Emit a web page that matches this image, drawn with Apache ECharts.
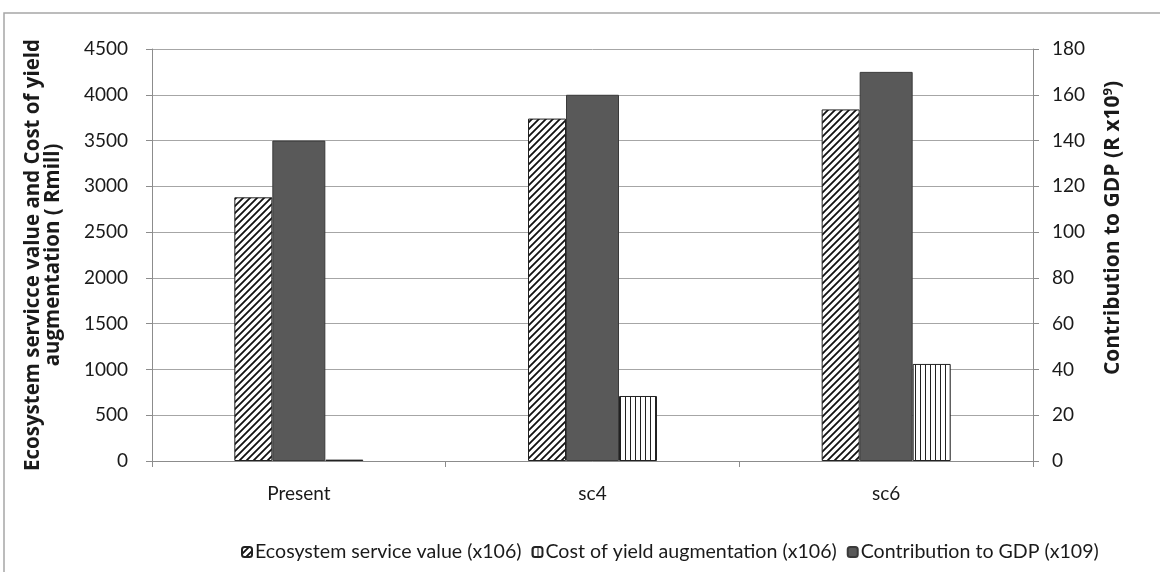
<!DOCTYPE html>
<html>
<head>
<meta charset="utf-8">
<script src="https://cdn.jsdelivr.net/npm/echarts@6/dist/echarts.min.js"></script>
<style>
  html, body { margin: 0; padding: 0; background: #fff; }
  #chart { width: 1160px; height: 572px; }
</style>
</head>
<body>
<div id="chart"></div>
<script>
// Scenario categories and the three series (values per axis unit)
const categories = ['Present', 'sc4', 'sc6'];
const ecosystemValue = [2880, 3740, 3840];   // left axis, Rmill
const yieldCost = [15, 710, 1060];           // left axis, Rmill
const gdpContribution = [140, 160, 170];     // right axis, R x10^9

const leftTicks = { min: 0, max: 4500, interval: 500 };
const rightTicks = { min: 0, max: 180, interval: 20 };

const seriesNames = {
  eco: 'Ecosystem service value (x106)',
  cost: 'Cost of yield augmentation (x106)',
  gdp: 'Contribution to GDP (x109)'
};

// Hatch fills built on small canvas tiles
function diagonalTile() {
  const s = 7;
  const c = document.createElement('canvas');
  c.width = s; c.height = s;
  const g = c.getContext('2d');
  g.fillStyle = '#fff';
  g.fillRect(0, 0, s, s);
  g.strokeStyle = '#111';
  g.lineWidth = 1.8;
  g.beginPath();
  g.moveTo(-1, s + 1); g.lineTo(s + 1, -1);
  g.moveTo(-1 - s, s + 1); g.lineTo(1, -1);
  g.moveTo(s - 1, s + 1); g.lineTo(2 * s + 1, -1);
  g.stroke();
  return c;
}
function verticalTile() {
  const c = document.createElement('canvas');
  c.width = 5; c.height = 4;
  const g = c.getContext('2d');
  g.fillStyle = '#fff';
  g.fillRect(0, 0, 5, 4);
  g.fillStyle = '#222';
  g.fillRect(0, 0, 1, 4);
  return c;
}

const fontFamily = 'Lato, "Open Sans", sans-serif';
const titleFamily = '"Open Sans", Lato, sans-serif';
const textColor = '#1a1a1a';
const axisGray = '#8c8c8c';
const plainNumber = v => String(v);

const chart = echarts.init(document.getElementById('chart'), null, { renderer: 'canvas' });

chart.setOption({
  animation: false,
  backgroundColor: '#fff',
  textStyle: { fontFamily: fontFamily, color: textColor },
  grid: { left: 152, right: 127, top: 49, bottom: 111 },
  legend: {
    data: [seriesNames.eco, seriesNames.cost, seriesNames.gdp],
    left: 236,
    top: 537,
    itemWidth: 10,
    itemHeight: 10,
    itemGap: 10,
    textStyle: { fontFamily: fontFamily, fontSize: 19.6, color: textColor, padding: [0, 0, 0, -2] }
  },
  xAxis: {
    type: 'category',
    data: categories,
    axisLine: { lineStyle: { color: axisGray, width: 1 } },
    axisTick: { show: true, length: 6, lineStyle: { color: axisGray } },
    axisLabel: { fontSize: 19, color: textColor, margin: 23, fontFamily: fontFamily }
  },
  yAxis: [
    {
      type: 'value',
      min: leftTicks.min, max: leftTicks.max, interval: leftTicks.interval,
      position: 'left',
      name: 'Ecosystem servicce value and Cost of yield\naugmentation ( Rmill)',
      nameLocation: 'middle',
      nameRotate: 90,
      nameGap: 89,
      nameTextStyle: { fontSize: 20.5, fontWeight: 'bold', color: textColor, lineHeight: 20, fontFamily: titleFamily },
      axisLine: { show: true, lineStyle: { color: axisGray } },
      axisTick: { show: true, length: 6, lineStyle: { color: axisGray } },
      axisLabel: { fontSize: 19, color: textColor, margin: 24, fontFamily: fontFamily, formatter: plainNumber },
      splitLine: { show: true, lineStyle: { color: '#a6a6a6', width: 1 } }
    },
    {
      type: 'value',
      min: rightTicks.min, max: rightTicks.max, interval: rightTicks.interval,
      position: 'right',
      axisLine: { show: true, lineStyle: { color: axisGray } },
      axisTick: { show: true, length: 6, lineStyle: { color: axisGray } },
      axisLabel: { fontSize: 19, color: textColor, margin: 19, fontFamily: fontFamily, formatter: plainNumber },
      splitLine: { show: false }
    }
  ],
  graphic: [
    {
      type: 'rect',
      shape: { x: 4, y: 13, width: 1200, height: 600 },
      style: { fill: 'none', stroke: '#a6a6a6', lineWidth: 1.5 },
      silent: true
    },
    {
      type: 'text',
      x: 1113, y: 228,
      rotation: Math.PI / 2,
      style: {
        text: 'Contribution to GDP (R x10{sup|9})',
        font: 'bold 21px "Open Sans", Lato, sans-serif',
        fill: textColor,
        align: 'center',
        verticalAlign: 'middle',
        rich: {
          sup: { fontSize: 13, fontWeight: 'bold', fontFamily: titleFamily, padding: [0, 0, 10, 0] }
        }
      },
      silent: true
    }
  ],
  series: [
    {
      name: seriesNames.eco,
      type: 'bar',
      yAxisIndex: 0,
      data: ecosystemValue,
      barWidth: 38,
      barGap: '0%',
      itemStyle: {
        color: { image: diagonalTile(), repeat: 'repeat' },
        borderColor: '#222',
        borderWidth: 1
      }
    },
    {
      name: seriesNames.gdp,
      type: 'bar',
      yAxisIndex: 1,
      data: gdpContribution,
      barWidth: 53,
      barGap: '0%',
      itemStyle: { color: '#595959', borderColor: '#3a3a3a', borderWidth: 1 }
    },
    {
      name: seriesNames.cost,
      type: 'bar',
      yAxisIndex: 0,
      data: yieldCost,
      barWidth: 38,
      barGap: '0%',
      itemStyle: {
        color: { image: verticalTile(), repeat: 'repeat' },
        borderColor: '#222',
        borderWidth: 1
      }
    }
  ]
});
</script>
</body>
</html>
